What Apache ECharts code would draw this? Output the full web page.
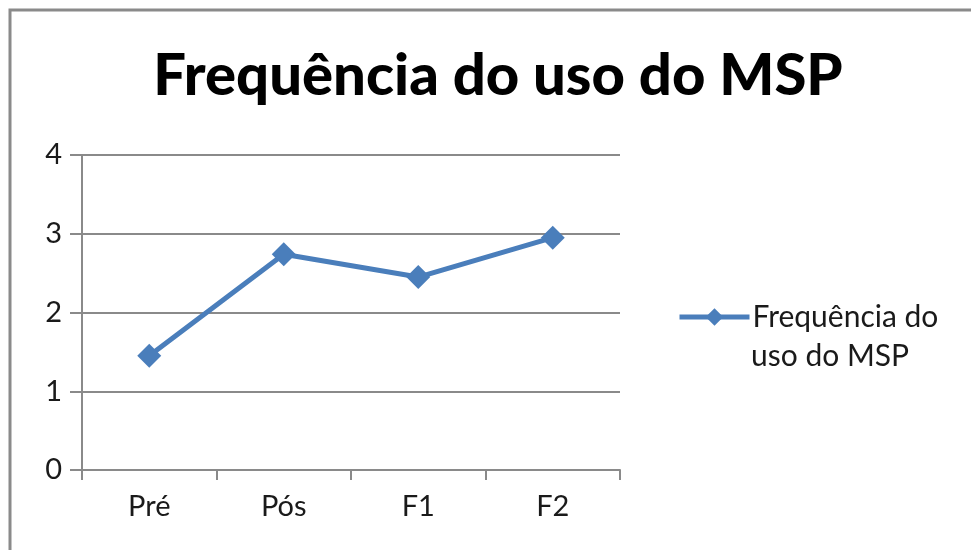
<!DOCTYPE html>
<html>
<head>
<meta charset="utf-8">
<script src="https://cdn.jsdelivr.net/npm/echarts@6/dist/echarts.min.js"></script>
<style>
  html, body { margin: 0; padding: 0; background: #fff; }
  #chart { width: 971px; height: 550px; }
</style>
</head>
<body>
<div id="chart"></div>
<script>
// dados
const categorias = ['Pré', 'Pós', 'F1', 'F2']
const frequencia = [1.45, 2.74, 2.45, 2.95]
const nomeSerie = 'Frequência do uso do MSP'

const chart = echarts.init(document.getElementById('chart'))
const fonte = 'Lato, "Open Sans", sans-serif'

const option = {
  animation: false,
  backgroundColor: '#fff',
  title: {
    text: nomeSerie,
    left: 493,
    textAlign: 'center',
    top: 42,
    textStyle: {
      fontFamily: fonte,
      fontWeight: 900,
      fontSize: 58,
      color: '#000'
    }
  },
  graphic: [
    //moldura cinza
    {
      type: 'rect',
      shape: { x: 10, y: 10, width: 1000, height: 600 },
      style: { fill: 'none', stroke: '#8a8a8a', lineWidth: 3 },
      silent: true
    },
    //segunda linha da legenda (o ícone fica alinhado com a primeira)
    {
      type: 'text',
      left: 751,
      top: 341,
      style: {
        text: 'uso do MSP',
        font: '30px ' + fonte,
        fill: '#1a1a1a'
      },
      silent: true
    }
  ],
  grid: {
    left: 82,
    right: 351,
    top: 155,
    bottom: 80
  },
  legend: {
    left: 672,
    top: 292,
    orient: 'vertical',
    itemWidth: 70,
    itemHeight: 22,
    itemGap: 5,
    lineStyle: { width: 5 },
    formatter: () => 'Frequência do',
    textStyle: {
      fontFamily: fonte,
      fontSize: 30,
      color: '#1a1a1a',
      lineHeight: 40,
      padding: [0, 0, 0, -2]
    }
  },
  xAxis: {
    type: 'category',
    data: categorias,
    boundaryGap: true,
    axisLine: { lineStyle: { color: '#8a8a8a', width: 2 } },
    axisTick: { show: true, length: 10, lineStyle: { color: '#8a8a8a', width: 2 } },
    axisLabel: {
      margin: 22,
      fontFamily: fonte,
      fontSize: 29,
      color: '#1a1a1a'
    }
  },
  yAxis: {
    type: 'value',
    min: 0,
    max: 4,
    interval: 1,
    axisLine: { show: true, lineStyle: { color: '#8a8a8a', width: 2 } },
    axisTick: { show: true, length: 12, lineStyle: { color: '#8a8a8a', width: 2 } },
    splitLine: { lineStyle: { color: '#8a8a8a', width: 2 } },
    axisLabel: {
      margin: 20,
      fontFamily: fonte,
      fontSize: 29,
      color: '#1a1a1a'
    }
  },
  series: [
    {
      name: nomeSerie,
      type: 'line',
      data: frequencia,
      symbol: 'diamond',
      symbolSize: 24,
      lineStyle: { color: '#4a7ebb', width: 5 },
      itemStyle: { color: '#4a7ebb' }
    }
  ]
}

chart.setOption(option)
</script>
</body>
</html>
